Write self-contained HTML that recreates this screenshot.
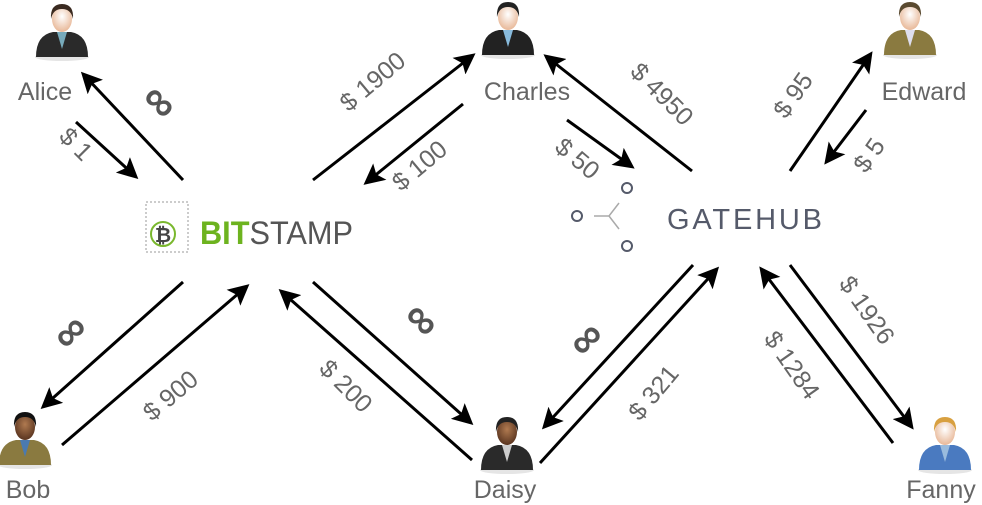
<!DOCTYPE html>
<html><head><meta charset="utf-8"><style>
body{margin:0;background:#fff;width:982px;height:505px;overflow:hidden}
svg{display:block}
text{font-family:"Liberation Sans",sans-serif}
.l{fill:#666;font-size:25px}
.i{fill:#555;font-size:44px;font-weight:bold}
</style></head><body>
<svg width="982" height="505" viewBox="0 0 982 505">
<defs>
<marker id="a" markerWidth="7" markerHeight="7" refX="5.5" refY="3.5" orient="auto" markerUnits="strokeWidth">
<path d="M0,0 L7,3.5 L0,7 L1.5,3.5 z" fill="#000"/></marker>
<radialGradient id="sk" cx="0.5" cy="0.4" r="0.6"><stop offset="0" stop-color="#fff"/><stop offset="1" stop-color="#e8b898"/></radialGradient>
<radialGradient id="dk" cx="0.5" cy="0.4" r="0.6"><stop offset="0" stop-color="#b07a50"/><stop offset="1" stop-color="#5a3520"/></radialGradient>
<g id="p"><ellipse cx="0" cy="53" rx="27" ry="4" fill="#ccc" opacity=".5"/>
<path d="M-26,53 Q-26,31 -9,28 L9,28 Q26,31 26,53 z" fill="var(--b)"/>
<path d="M-5,28 L0,45 L5,28 z" fill="var(--s)"/>
<ellipse cx="0" cy="15" rx="10" ry="13" fill="var(--f)"/>
<path d="M-11,15 Q-12,0 0,0 Q12,0 11,15 Q9,5 0,5 Q-9,5 -11,15z" fill="var(--h)"/></g>
</defs>
<g stroke="#000" stroke-width="3" fill="none" marker-end="url(#a)">
<line x1="183" y1="180" x2="84" y2="75"/>
<line x1="76" y1="122" x2="135" y2="176"/>
<line x1="183" y1="282" x2="44" y2="406"/>
<line x1="62" y1="445" x2="246" y2="287"/>
<line x1="313" y1="180" x2="472" y2="56"/>
<line x1="463" y1="104" x2="367" y2="182"/>
<line x1="313" y1="282" x2="470" y2="422"/>
<line x1="472" y1="460" x2="282" y2="292"/>
<line x1="567" y1="120" x2="631" y2="166"/>
<line x1="692" y1="171" x2="547" y2="57"/>
<line x1="790" y1="171" x2="870" y2="55"/>
<line x1="866" y1="110" x2="827" y2="161"/>
<line x1="693" y1="265" x2="545" y2="426"/>
<line x1="540" y1="463" x2="716" y2="270"/>
<line x1="790" y1="265" x2="911" y2="426"/>
<line x1="893" y1="443" x2="762" y2="270"/>
</g>
<use href="#p" x="62" y="4" style="--b:#2a2a2a;--s:#7ab;--f:url(#sk);--h:#3a2a20"/>
<use href="#p" x="508" y="2" style="--b:#222;--s:#8bd;--f:url(#sk);--h:#222"/>
<use href="#p" x="910" y="2" style="--b:#8a7a40;--s:#dde;--f:url(#sk);--h:#5a4a30"/>
<use href="#p" x="25" y="412" style="--b:#8a7a40;--s:#4a7ab0;--f:url(#dk);--h:#111"/>
<use href="#p" x="507" y="417" style="--b:#2a2a2a;--s:#ccc;--f:url(#dk);--h:#222"/>
<use href="#p" x="945" y="417" style="--b:#4a7ac0;--s:#9bd;--f:url(#sk);--h:#d8a040"/>
<g text-anchor="middle">
<text x="45" y="100" class="l">Alice</text>
<text x="527" y="100" class="l">Charles</text>
<text x="924" y="100" class="l">Edward</text>
<text x="28" y="498" class="l">Bob</text>
<text x="505" y="498" class="l">Daisy</text>
<text x="941" y="498" class="l">Fanny</text>
</g>
<g text-anchor="middle">
<text transform="translate(70,150) rotate(45)" class="l">$ 1</text>
<text transform="translate(150,112) rotate(45)" class="i">∞</text>
<text transform="translate(378,88) rotate(-40)" class="l">$ 1900</text>
<text transform="translate(425,172) rotate(-40)" class="l">$ 100</text>
<text transform="translate(656,100) rotate(45)" class="l">$ 4950</text>
<text transform="translate(572,165) rotate(40)" class="l">$ 50</text>
<text transform="translate(800,100) rotate(-55)" class="l">$ 95</text>
<text transform="translate(876,160) rotate(-55)" class="l">$ 5</text>
<text transform="translate(80,342) rotate(-45)" class="i">∞</text>
<text transform="translate(176,402) rotate(-40)" class="l">$ 900</text>
<text transform="translate(340,392) rotate(45)" class="l">$ 200</text>
<text transform="translate(412,330) rotate(45)" class="i">∞</text>
<text transform="translate(596,349) rotate(-45)" class="i">∞</text>
<text transform="translate(660,398) rotate(-50)" class="l">$ 321</text>
<text transform="translate(785,370) rotate(55)" class="l">$ 1284</text>
<text transform="translate(860,315) rotate(55)" class="l">$ 1926</text>
</g>
<g>
<rect x="146" y="202" width="42" height="50" fill="#fff" stroke="#bbb" stroke-width="1.5" stroke-dasharray="2 2"/>
<circle cx="163" cy="234" r="12" fill="none" stroke="#7ab82e" stroke-width="2"/>
<text x="163" y="242" text-anchor="middle" style="font-size:20px;font-weight:bold;fill:#444">₿</text>
<text x="200" y="244" textLength="153" lengthAdjust="spacingAndGlyphs" style="font-size:32px"><tspan style="font-weight:bold;fill:#6db31f">BIT</tspan><tspan style="fill:#555">STAMP</tspan></text>
</g>
<g stroke="#555a6a" stroke-width="2" fill="none">
<circle cx="627" cy="188" r="5"/><circle cx="577" cy="216" r="5"/><circle cx="627" cy="246" r="5"/>
<path d="M594,216 H609 L619,203 M609,216 L619,229" stroke="#aaa" stroke-width="1.5"/>
</g>
<text x="667" y="229" textLength="155" lengthAdjust="spacing" style="font-size:29px;fill:#555a6a">GATEHUB</text>
</svg>
</body></html>
